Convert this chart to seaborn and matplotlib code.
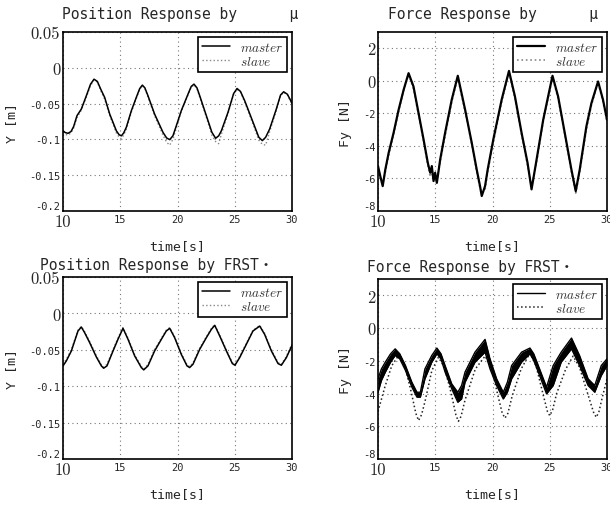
import matplotlib
matplotlib.use("Agg")
import matplotlib.pyplot as plt
import seaborn as sns
import numpy as np
import pandas as pd

# ---------------- data ----------------
t_tl = [10.0, 10.2, 10.44, 10.7, 10.93, 11.22, 11.6, 12.04, 12.4, 12.71, 13.0, 13.3, 13.64, 14.08,
        14.66, 14.9, 15.1, 15.3, 15.53, 15.97, 16.4, 16.7, 16.93, 17.15, 17.42, 18.0, 18.73, 19.05,
        19.32, 19.6, 19.9, 20.33, 20.92, 21.2, 21.44, 21.7, 21.94, 22.52, 23.0, 23.33, 23.6, 23.83,
        24.41, 24.9, 25.2, 25.5, 25.87, 26.6, 27.1, 27.41, 27.7, 28.05, 28.63, 29.0, 29.27, 29.6, 30.0]
pos_mu_master = [-0.088, -0.0905, -0.0915, -0.089, -0.082, -0.0669, -0.0576, -0.039, -0.023, -0.0159,
                 -0.019, -0.030, -0.0414, -0.0646, -0.088, -0.0935, -0.095, -0.091, -0.0831, -0.0599,
                 -0.0414, -0.029, -0.0242, -0.028, -0.039, -0.0646, -0.0901, -0.098, -0.1003, -0.095,
                 -0.0808, -0.0599, -0.0367, -0.026, -0.0228, -0.028, -0.039, -0.0669, -0.090, -0.0984,
                 -0.095, -0.088, -0.0622, -0.036, -0.0289, -0.033, -0.046, -0.0762, -0.097, -0.1017,
                 -0.097, -0.0854, -0.0576, -0.038, -0.0335, -0.037, -0.0493]
pos_mu_slave = [-0.090, -0.093, -0.094, -0.091, -0.084, -0.070, -0.059, -0.041, -0.025, -0.017,
                -0.020, -0.032, -0.044, -0.067, -0.091, -0.097, -0.099, -0.094, -0.086, -0.062,
                -0.043, -0.030, -0.025, -0.029, -0.041, -0.067, -0.094, -0.104, -0.108, -0.100,
                -0.084, -0.061, -0.038, -0.027, -0.024, -0.029, -0.041, -0.069, -0.094, -0.103,
                -0.106, -0.093, -0.064, -0.037, -0.030, -0.034, -0.048, -0.079, -0.101, -0.107,
                -0.108, -0.089, -0.060, -0.039, -0.034, -0.038, -0.051]

t_tr = [10.0, 10.2, 10.41, 10.64, 10.93, 11.36, 11.8, 12.24, 12.67, 13.1, 13.54, 13.98, 14.35, 14.56,
        14.7, 14.85, 14.99, 15.14, 15.43, 15.86, 16.44, 16.97, 17.17, 17.61, 18.19, 18.62, 18.91,
        19.06, 19.35, 19.58, 20.07, 20.8, 21.44, 21.96, 22.54, 23.06, 23.41, 23.85, 24.43, 25.24,
        25.73, 26.31, 26.89, 27.27, 27.62, 28.2, 28.64, 29.22, 29.65, 30.0]
force_mu_master = [-5.24, -5.86, -6.47, -5.45, -4.43, -3.2, -1.78, -0.55, 0.47, -0.35, -1.98, -3.61,
                   -5.04, -5.65, -5.24, -6.16, -5.65, -6.27, -4.84, -3.2, -1.16, 0.31, -0.35, -1.78,
                   -3.82, -5.45, -6.47, -7.08, -6.47, -5.45, -3.61, -1.16, 0.61, -0.96, -3.2, -5.04,
                   -6.67, -4.84, -2.39, 0.31, -0.96, -3.2, -5.45, -6.78, -5.45, -2.8, -1.37, -0.04,
                   -1.16, -2.39]
force_mu_slave = [-5.4, -6.1, -6.3, -5.6, -4.6, -3.3, -1.9, -0.6, 0.4, -0.5, -2.1, -3.7,
                  -5.2, -5.9, -5.5, -6.0, -6.2, -6.1, -5.0, -3.4, -1.3, 0.2, -0.5, -1.9,
                  -3.9, -5.6, -6.6, -6.9, -6.7, -5.6, -3.8, -1.3, 0.5, -1.1, -3.3, -5.2,
                  -6.5, -5.0, -2.5, 0.2, -1.1, -3.3, -5.6, -6.9, -5.6, -3.0, -1.5, -0.1,
                  -1.3, -2.5]

t_bl = [10.0, 10.29, 10.73, 11.02, 11.31, 11.6, 11.89, 12.33, 12.91, 13.35, 13.55, 13.84, 14.37, 14.8,
        15.24, 15.68, 16.26, 16.84, 17.05, 17.42, 18.0, 18.59, 19.02, 19.32, 19.75, 20.33, 20.83,
        21.06, 21.35, 21.94, 22.52, 22.96, 23.25, 23.69, 24.27, 24.79, 25.02, 25.43, 26.01, 26.59,
        27.18, 27.61, 28.2, 28.78, 29.07, 29.51, 30.0]
pos_frst_master = [-0.0721, -0.0653, -0.0516, -0.0379, -0.0242, -0.0187, -0.0265, -0.0402, -0.0598,
                   -0.0721, -0.0753, -0.0721, -0.0516, -0.0356, -0.0205, -0.0356, -0.0584, -0.0744,
                   -0.0776, -0.0721, -0.0516, -0.0356, -0.0242, -0.0205, -0.0333, -0.0562, -0.0721,
                   -0.0744, -0.0699, -0.0493, -0.0333, -0.0219, -0.0164, -0.0311, -0.0516, -0.0689,
                   -0.0712, -0.0607, -0.0425, -0.0242, -0.0174, -0.0288, -0.0516, -0.0689, -0.0712,
                   -0.0607, -0.0438]
pos_frst_slave = [-0.0700, -0.0630, -0.0495, -0.0360, -0.0230, -0.0180, -0.0250, -0.0385, -0.0580,
                  -0.0705, -0.0740, -0.0700, -0.0495, -0.0340, -0.0195, -0.0340, -0.0565, -0.0730,
                  -0.0765, -0.0700, -0.0495, -0.0340, -0.0230, -0.0195, -0.0320, -0.0545, -0.0705,
                  -0.0730, -0.0680, -0.0475, -0.0320, -0.0205, -0.0155, -0.0295, -0.0500, -0.0675,
                  -0.0700, -0.0590, -0.0410, -0.0230, -0.0165, -0.0275, -0.0500, -0.0675, -0.0700,
                  -0.0590, -0.0420]

t_br = [10.0, 10.3, 10.64, 11.1, 11.5, 11.9, 12.4, 12.96, 13.4, 13.7, 14.1, 14.7, 15.14, 15.5, 15.86,
        16.44, 16.97, 17.3, 17.6, 18.47, 19.35, 19.78, 20.36, 20.94, 21.3, 21.67, 22.54, 23.27, 23.6,
        24.0, 24.72, 25.3, 26.0, 26.9, 27.6, 28.35, 28.93, 29.5, 30.0]
force_frst_master_hi = [-3.1, -2.49, -2.08, -1.57, -1.27, -1.57, -2.29, -3.31, -3.92, -3.92, -2.49,
                        -1.67, -1.22, -1.57, -2.29, -3.41, -3.92, -3.51, -2.69, -1.47, -0.69, -1.88,
                        -3.1, -3.92, -3.31, -2.29, -1.47, -1.22, -1.57, -2.29, -3.61, -2.29, -1.47,
                        -0.61, -1.67, -3.1, -3.51, -2.29, -1.88]
force_frst_master_lo = [-3.92, -3.2, -2.69, -2.08, -1.67, -1.88, -2.59, -3.61, -4.22, -4.22, -3.1,
                        -2.08, -1.57, -1.88, -2.69, -3.71, -4.53, -4.33, -3.31, -2.08, -1.47, -2.49,
                        -3.51, -4.33, -3.92, -3.1, -2.08, -1.57, -1.98, -2.69, -4.02, -3.51, -2.08,
                        -1.27, -2.29, -3.51, -3.92, -2.9, -2.29]
t_br_slave = [10.0, 10.6, 11.2, 11.8, 12.3, 12.9, 13.3, 13.54, 13.8, 14.1, 14.7, 15.28, 15.8, 16.4,
              16.8, 17.02, 17.25, 17.6, 18.5, 19.35, 19.9, 20.5, 20.85, 21.09, 21.35, 21.7, 22.5,
              23.27, 23.8, 24.4, 24.8, 25.0, 25.25, 25.6, 26.4, 27.04, 27.6, 28.4, 28.85, 29.07,
              29.3, 29.6, 30.0]
force_frst_slave = [-5.1, -3.6, -2.3, -1.67, -2.2, -3.9, -5.2, -5.65, -5.3, -4.5, -2.6, -1.78, -2.4,
                    -4.0, -5.3, -5.7, -5.4, -4.4, -2.5, -1.71, -2.4, -4.2, -5.2, -5.5, -5.2, -4.2,
                    -2.5, -1.53, -2.3, -4.0, -5.1, -5.35, -5.0, -4.0, -2.5, -1.71, -2.4, -4.2, -5.2,
                    -5.45, -5.1, -4.2, -3.1]

titles = ["Position Response by      \u03bc", "Force Response by      \u03bc",
          "Position Response by FRST\u30fb", "Force Response by FRST\u30fb"]
ylabels = ["Y [m]", "Fy [N]", "Y [m]", "Fy [N]"]
xlabel = "time[s]"
legend_labels = ["$master$", "$slave$"]

x_ticks = [10, 15, 20, 25, 30]
x_ticklabels = ["10", "15", "20", "25", "30"]
pos_yticks = [-0.2, -0.15, -0.1, -0.05, 0, 0.05]
pos_yticklabels = ["-0.2", "-0.15", "-0.1", "-0.05", "0", "0.05"]
force_yticks = [-8, -6, -4, -2, 0, 2]
force_yticklabels = ["-8", "-6", "-4", "-2", "0", "2"]

# ---------------- style ----------------
sns.set_style("white")
mono = ['DejaVu Sans Mono', 'Noto Sans CJK JP']
plt.rcParams['font.family'] = mono
plt.rcParams['mathtext.fontset'] = 'cm'

fig = plt.figure(figsize=(6.1, 5.06), dpi=100)
positions = [
    [63 / 610, 1 - 212 / 506, 229 / 610, 179 / 506],
    [378 / 610, 1 - 212 / 506, 229 / 610, 179 / 506],
    [63 / 610, 1 - 460 / 506, 229 / 610, 182 / 506],
    [378 / 610, 1 - 460 / 506, 229 / 610, 180 / 506],
]
axes = [fig.add_axes(p) for p in positions]
title_x = [-0.004, 0.044, -0.10, -0.048]
title_pad = [10, 10, 5.5, 5.5]


def style_axis(ax, idx, yticks, yticklabels, ylim):
    ax.set_xlim(10, 30)
    ax.set_ylim(*ylim)
    ax.set_xticks(x_ticks, x_ticklabels)
    ax.set_yticks(yticks, yticklabels)
    ax.grid(True, color='#777777', linestyle=(0, (1, 3)), linewidth=0.8)
    ax.tick_params(direction='in', length=3, width=0.6, pad=2, color='k')
    for lab in ax.get_xticklabels() + ax.get_yticklabels():
        if lab.get_text().startswith('-') or lab.get_text() in ("15", "20", "25", "30"):
            lab.set_fontfamily(mono)
            lab.set_fontsize(7.5)
        else:
            lab.set_fontfamily('cmr10')
            lab.set_fontsize(12)
    # lowest y label sits slightly raised, as in the reference
    ax.get_yticklabels()[0].set_verticalalignment('bottom')
    for s in ax.spines.values():
        s.set_visible(True)
        s.set_color('k')
        s.set_linewidth(1.2)
    ax.set_xlabel(xlabel, fontsize=9.5, labelpad=7, family=mono)
    ax.set_ylabel(ylabels[idx], fontsize=9.5, labelpad=8, family=mono)
    ax.set_title(titles[idx], fontsize=10.5, loc='left', x=title_x[idx], pad=title_pad[idx], family=mono)
    h, l = ax.get_legend_handles_labels()
    leg = ax.legend(h[::-1], l[::-1], loc='upper right', fontsize=9.5, frameon=True, fancybox=False,
                    framealpha=1, edgecolor='k', borderaxespad=0.35, handlelength=2.1,
                    handletextpad=0.8, labelspacing=0.1, borderpad=0.3)
    leg.get_frame().set_linewidth(1.2)
    for txt in leg.get_texts():
        txt.set_color('#333333')


# Top-left
ax = axes[0]
sns.lineplot(x=t_tl, y=pos_mu_slave, ax=ax, color='#888888', linestyle=':', linewidth=1.0,
             label=legend_labels[1], zorder=2)
sns.lineplot(x=t_tl, y=pos_mu_master, ax=ax, color='k', linewidth=1.1, label=legend_labels[0], zorder=3)
style_axis(ax, 0, pos_yticks, pos_yticklabels, (-0.2, 0.05))

# Top-right
ax = axes[1]
sns.lineplot(x=t_tr, y=force_mu_slave, ax=ax, color='#888888', linestyle=':', linewidth=1.2,
             label=legend_labels[1], zorder=2)
sns.lineplot(x=t_tr, y=force_mu_master, ax=ax, color='k', linewidth=1.6, label=legend_labels[0], zorder=3)
style_axis(ax, 1, force_yticks, force_yticklabels, (-8, 3))

# Bottom-left
ax = axes[2]
sns.lineplot(x=t_bl, y=pos_frst_slave, ax=ax, color='#888888', linestyle=':', linewidth=1.0,
             label=legend_labels[1], zorder=2)
sns.lineplot(x=t_bl, y=pos_frst_master, ax=ax, color='k', linewidth=1.1, label=legend_labels[0], zorder=3)
style_axis(ax, 2, pos_yticks, pos_yticklabels, (-0.2, 0.05))

# Bottom-right
ax = axes[3]
sns.lineplot(x=t_br_slave, y=force_frst_slave, ax=ax, color='#222222', linestyle=':', linewidth=1.1,
             label=legend_labels[1], zorder=2)
sns.lineplot(x=t_br, y=force_frst_master_hi, ax=ax, color='k', linewidth=1.0, label=legend_labels[0], zorder=3)
sns.lineplot(x=t_br, y=force_frst_master_lo, ax=ax, color='k', linewidth=1.0, zorder=3)
ax.fill_between(t_br, force_frst_master_lo, force_frst_master_hi, color='k', linewidth=0, zorder=3)
style_axis(ax, 3, force_yticks, force_yticklabels, (-8, 3))

fig.savefig("out.png", dpi=100)
